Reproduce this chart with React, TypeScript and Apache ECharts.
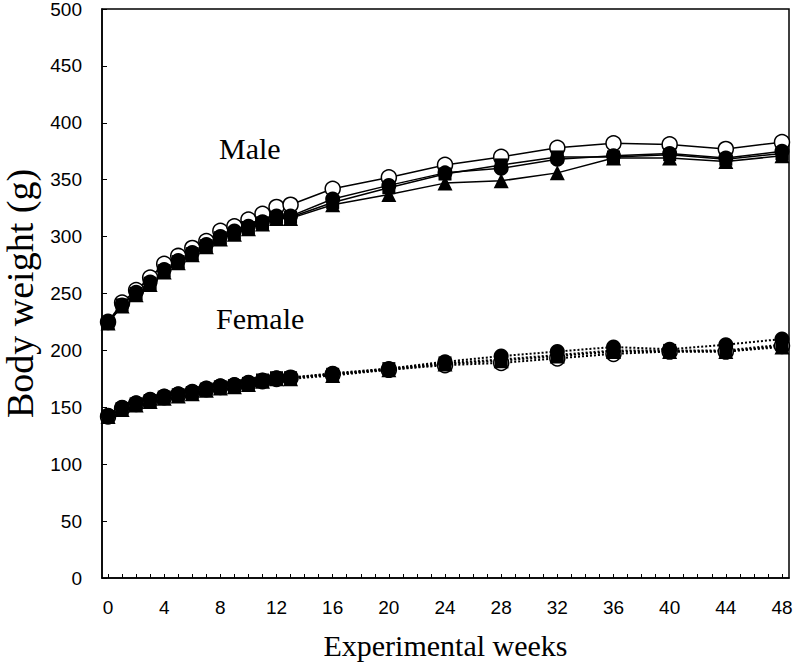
import React, { useEffect, useRef } from "react";
import * as echarts from "echarts";

const weeks = [0, 1, 2, 3, 4, 5, 6, 7, 8, 9, 10, 11, 12, 13, 16, 20, 24, 28, 32, 36, 40, 44, 48];
const xLabelValues = [0, 4, 8, 12, 16, 20, 24, 28, 32, 36, 40, 44, 48];
const xTickValues = Array.from({ length: 49 }, (_, i) => i);

const maleOpenCircle = [225, 242, 253, 264, 276, 283, 290, 296, 305, 309, 315, 320, 326, 328, 342, 352, 363, 370, 378, 382, 381, 377, 383];
const maleFilledCircle = [225, 240, 251, 260, 271, 279, 286, 293, 300, 305, 309, 313, 318, 318, 333, 345, 356, 360, 368, 371, 373, 369, 375];
const maleSquare = [224, 240, 250, 259, 270, 278, 285, 292, 299, 303, 308, 312, 317, 317, 330, 343, 355, 363, 370, 370, 372, 368, 373];
const maleTriangle = [224, 239, 249, 258, 269, 277, 284, 291, 298, 302, 307, 311, 316, 316, 328, 337, 347, 349, 356, 369, 369, 366, 371];

const femaleOpenCircle = [142, 149, 153, 156, 159, 161, 163, 166, 168, 169, 171, 173, 175, 176, 179, 183, 187, 189, 193, 197, 199, 199, 204];
const femaleFilledCircle = [143, 150, 154, 157, 160, 162, 164, 167, 169, 170, 172, 174, 176, 176, 180, 184, 190, 195, 199, 203, 201, 205, 210];
const femaleSquare = [142, 149, 153, 156, 159, 161, 163, 166, 168, 169, 171, 174, 176, 176, 179, 184, 189, 192, 196, 200, 200, 200, 205];
const femaleTriangle = [142, 148, 152, 155, 158, 160, 162, 165, 167, 168, 170, 173, 175, 175, 178, 183, 188, 191, 195, 199, 199, 199, 203];

const pairs = (vals: number[]) => weeks.map((w, i) => [w, vals[i]]);

type Marker = "open" | "circle" | "square" | "triangle";

const makeSeries = (name: string, vals: number[], marker: Marker, dotted: boolean) => {
  const symbol = marker === "square" ? "rect" : marker === "triangle" ? "triangle" : "circle";
  const size = marker === "square" ? 13 : marker === "triangle" ? 15 : 15;
  return {
    name,
    type: "line",
    data: pairs(vals),
    symbol,
    symbolSize: size,
    showAllSymbol: true,
    itemStyle: {
      color: marker === "open" ? "#ffffff" : "#000000",
      borderColor: "#000000",
      borderWidth: marker === "open" ? 1.5 : 0,
    },
    lineStyle: { color: "#000000", width: dotted ? 2 : 1.5, type: dotted ? "dotted" : "solid" },
    emphasis: { disabled: true },
  };
};

export default function App() {
  const ref = useRef<HTMLDivElement>(null);
  useEffect(() => {
    if (!ref.current) return;
    const chart = echarts.init(ref.current, undefined, { renderer: "svg" });
    chart.setOption({
      animation: false,
      backgroundColor: "#ffffff",
      grid: {
        left: 102, right: 4, top: 9, bottom: 86,
        containLabel: false, outerBoundsMode: "none",
        show: true, borderColor: "#000", borderWidth: 1.5,
      },
      xAxis: {
        type: "value",
        min: -0.43,
        max: 48.5,
        name: "Experimental weeks",
        nameLocation: "middle",
        nameGap: 52,
        nameTextStyle: { fontFamily: "Liberation Serif", fontSize: 30, color: "#000" },
        axisLine: { onZero: false, lineStyle: { color: "#000", width: 1.5 } },
        axisTick: { inside: true, length: 4, customValues: xTickValues, lineStyle: { color: "#000" } },
        axisLabel: { customValues: xLabelValues, margin: 20, fontFamily: "Liberation Sans", fontSize: 19, color: "#000" },
        splitLine: { show: false },
      },
      yAxis: {
        type: "value",
        min: 0,
        max: 500,
        interval: 50,
        name: "Body weight (g)",
        nameLocation: "middle",
        nameGap: 57,
        nameTextStyle: { fontFamily: "Liberation Serif", fontSize: 38, color: "#000" },
        axisLine: { show: true, onZero: false, lineStyle: { color: "#000", width: 1.5 } },
        axisTick: { inside: true, length: 5, lineStyle: { color: "#000" } },
        axisLabel: { margin: 20, fontFamily: "Liberation Sans", fontSize: 19, color: "#000" },
        splitLine: { show: false },
      },
      graphic: [
        { type: "text", left: 219, top: 133, style: { text: "Male", font: "30px 'Liberation Serif'", fill: "#000" } },
        { type: "text", left: 216, top: 303, style: { text: "Female", font: "30px 'Liberation Serif'", fill: "#000" } },
      ],
      series: [
        makeSeries("Male control", maleOpenCircle, "open", false),
        makeSeries("Male group 1", maleFilledCircle, "circle", false),
        makeSeries("Male group 3", maleTriangle, "triangle", false),
        makeSeries("Male group 2", maleSquare, "square", false),
        makeSeries("Female control", femaleOpenCircle, "open", true),
        makeSeries("Female group 3", femaleTriangle, "triangle", true),
        makeSeries("Female group 2", femaleSquare, "square", true),
        makeSeries("Female group 1", femaleFilledCircle, "circle", true),
      ],
    });
    return () => chart.dispose();
  }, []);
  return <div ref={ref} style={{ position: "fixed", left: 0, top: 0, width: 793, height: 664, background: "#fff" }} />;
}
